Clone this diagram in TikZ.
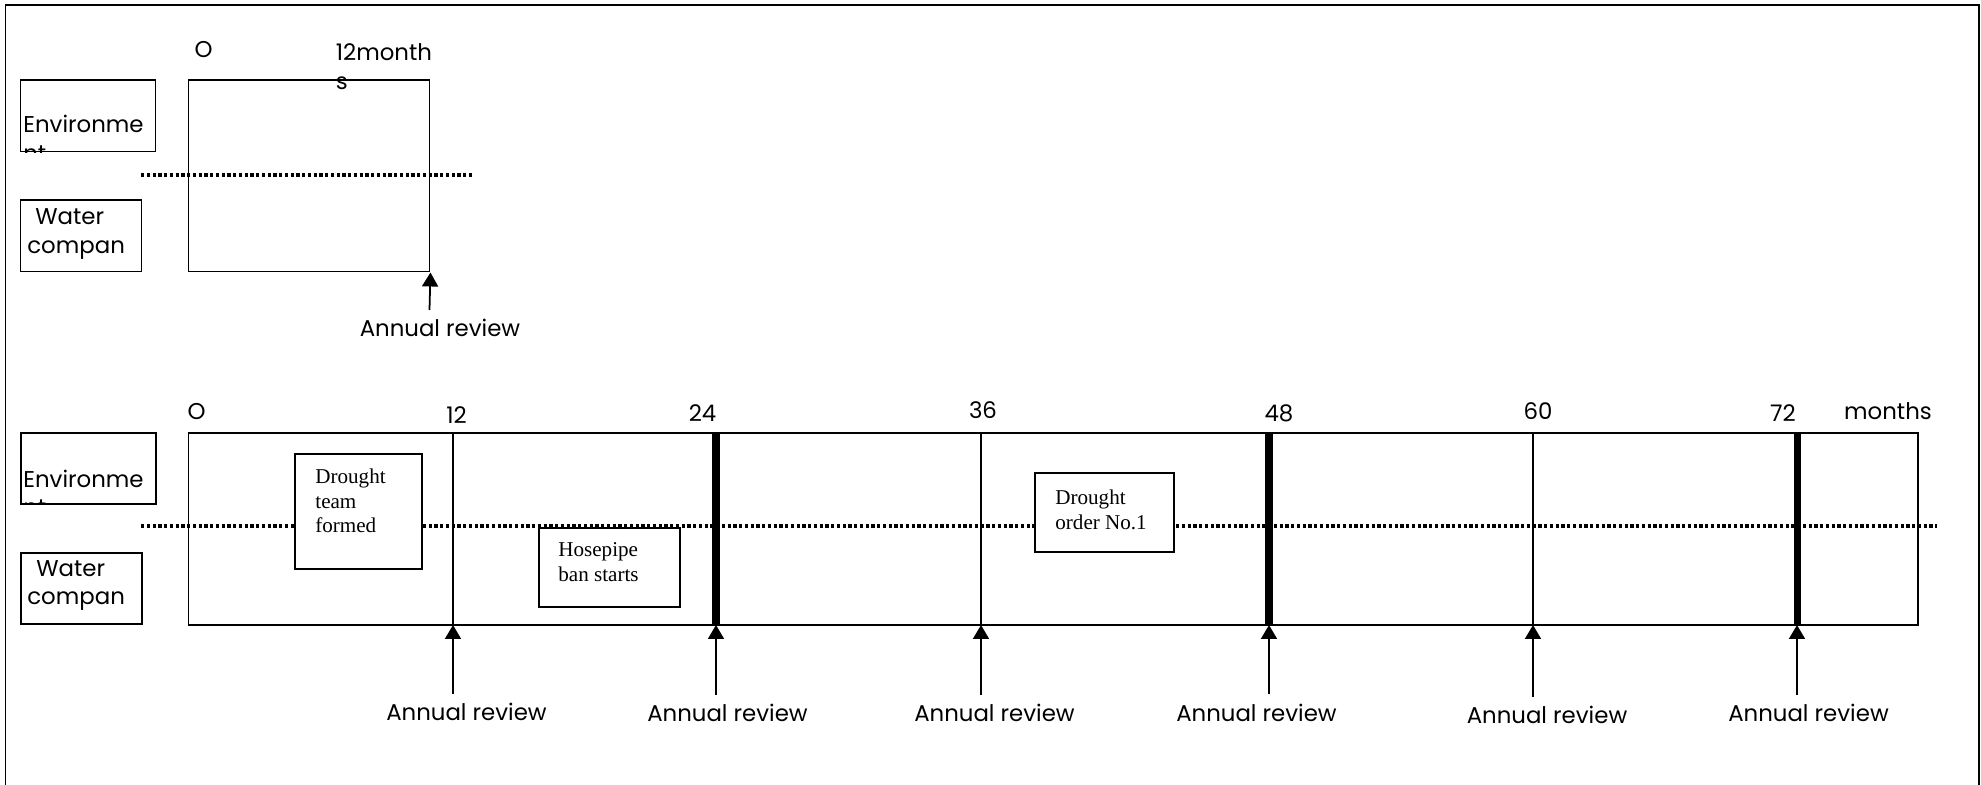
\documentclass[tikz,border=0pt]{standalone}
\usepackage{fontspec}
\newfontfamily\gothicfam{Poppins}
\newfontfamily\serifam{Liberation Serif}
\usepackage{tikz}
\usetikzlibrary{arrows.meta,positioning}
\newcommand{\gothic}{\gothicfam\fontsize{13}{16.5}\selectfont}
\newcommand{\evfont}{\serifam\fontsize{12}{14}\selectfont}

\begin{document}
\begin{tikzpicture}[
    sect/.style={draw, line width=1.1pt, inner sep=0pt},
    lbl/.style={font=\gothic, inner sep=0pt},
    event/.style={draw, fill=white, line width=1.1pt, inner sep=0pt},
    evtxt/.style={font=\evfont, align=left, inner sep=0pt},
    divider/.style={line width=2.1pt, dash pattern=on 0.065cm off 0.05cm},
    tick/.style={line width=1pt},
    milestone/.style={line width=4pt},
    review/.style={-{Triangle[width=0.32cm,length=0.28cm]}, line width=1pt}
]
    \useasboundingbox (0,0) rectangle (39.62,15.70);
    % outer frame, open at the bottom
    \draw[line width=1.1pt] (0.11,0) -- (0.11,15.60) -- (39.58,15.60) -- (39.58,0);

    % One year: single review
    \draw[divider] (2.82,12.20) -- (9.46,12.20);
    \node[sect, minimum width=4.82cm, minimum height=3.83cm] (yr) at (6.18,12.185) {};
    \node[sect, minimum width=2.70cm, minimum height=1.43cm] (envA) at (1.76,13.385) {};
    \node[sect, minimum width=2.42cm, minimum height=1.43cm] (watA) at (1.62,10.985) {};
    \node[lbl] (zeroA) at (4.07,14.70) {O};
    % base anchor sits on the last line
    \node[lbl, align=left, anchor=base west] (yrlen) at (6.71,13.90) {12month\\s};
    \begin{scope}
        \clip (envA.south west) rectangle (envA.north east);
        \node[lbl, align=left, anchor=base west] (envAtxt) at (0.46,12.47) {Environme\\nt};
    \end{scope}
    \node[lbl, align=left, anchor=base west] (watAtxt) at (0.54,10.62) {\hspace*{0.16cm}Water\\compan};
    \coordinate (endA) at (yr.south east);
    \coordinate (revA) at (8.59,9.50);
    \draw[review] (revA) -- (endA);
    \node[lbl] (revAtxt) at (8.80,9.14) {Annual review};

    % Six years: reviews every 12 months
    \draw[divider] (2.82,5.18) -- (38.74,5.18);
    \node[sect, minimum width=34.59cm, minimum height=3.84cm] (plan) at (21.065,5.12) {};
    \node[sect, minimum width=2.70cm, minimum height=1.42cm] (envB) at (1.77,6.33) {};
    \node[sect, minimum width=2.42cm, minimum height=1.42cm] (watB) at (1.63,3.93) {};
    \begin{scope}
        \clip (envB.south west) rectangle (envB.north east);
        \node[lbl, align=left, anchor=base west] (envBtxt) at (0.46,5.38) {Environme\\nt};
    \end{scope}
    \node[lbl, align=left, anchor=base west] (watBtxt) at (0.54,3.60) {\hspace*{0.18cm}Water\\compan};

    % month axis
    \node[lbl] (zeroB) at (3.93,7.47) {O};
    \node[lbl] (n12) at (9.13,7.40) {12};
    \node[lbl] (n24) at (14.05,7.44) {24};
    \node[lbl] (n36) at (19.66,7.50) {36};
    \node[lbl] (n48) at (25.58,7.44) {48};
    \node[lbl] (n60) at (30.76,7.48) {60};
    \node[lbl] (n72) at (35.66,7.44) {72};
    \node[lbl] (unit) at (37.76,7.48) {months};

    \coordinate (m12) at (9.06,3.20);
    \coordinate (m24) at (14.32,3.20);
    \coordinate (m36) at (19.62,3.20);
    \coordinate (m48) at (25.38,3.20);
    \coordinate (m60) at (30.66,3.20);
    \coordinate (m72) at (35.94,3.20);
    \draw[tick] (m12) -- (m12 |- plan.north);
    \draw[milestone] (m24) -- (m24 |- plan.north);
    \draw[tick] (m36) -- (m36 |- plan.north);
    \draw[milestone] (m48) -- (m48 |- plan.north);
    \draw[tick] (m60) -- (m60 |- plan.north);
    \draw[milestone] (m72) -- (m72 |- plan.north);

    % review arrows
    \coordinate (r12) at (9.06,1.82);
    \coordinate (r24) at (14.32,1.80);
    \coordinate (r36) at (19.62,1.80);
    \coordinate (r48) at (25.38,1.81);
    \coordinate (r60) at (30.66,1.76);
    \coordinate (r72) at (35.94,1.80);
    \draw[review] (r12) -- (m12);
    \draw[review] (r24) -- (m24);
    \draw[review] (r36) -- (m36);
    \draw[review] (r48) -- (m48);
    \draw[review] (r60) -- (m60);
    \draw[review] (r72) -- (m72);
    \node[lbl] (rev12) at (9.33,1.46) {Annual review};
    \node[lbl] (rev24) at (14.55,1.45) {Annual review};
    \node[lbl] (rev36) at (19.89,1.44) {Annual review};
    \node[lbl] (rev48) at (25.13,1.44) {Annual review};
    \node[lbl] (rev60) at (30.94,1.40) {Annual review};
    \node[lbl] (rev72) at (36.17,1.44) {Annual review};

    % events
    \node[event, minimum width=2.54cm, minimum height=2.30cm] (team) at (7.17,5.47) {};
    \node[evtxt, below right=0.31cm and 0.42cm of team.north west] (teamtxt) {Drought\\team\\formed};
    \node[event, minimum width=2.82cm, minimum height=1.58cm] (hose) at (12.19,4.35) {};
    \node[evtxt, below right=0.31cm and 0.40cm of hose.north west] (hosetxt) {Hosepipe\\ban starts};
    \node[event, minimum width=2.78cm, minimum height=1.58cm] (order) at (22.09,5.45) {};
    \node[evtxt, below right=0.35cm and 0.42cm of order.north west] (ordertxt) {Drought\\order No.1};
\end{tikzpicture}
\end{document}
